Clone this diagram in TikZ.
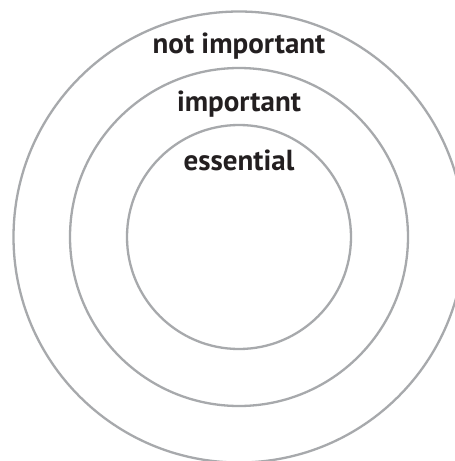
\documentclass[tikz,border=0pt]{standalone}
\usepackage{fontspec}
\setmainfont{PT Sans}
\definecolor{ringgray}{HTML}{A7A9AC}
\definecolor{labelink}{HTML}{231F20}
\begin{document}
\begin{tikzpicture}[x=1pt,y=-1pt,
  ring/.style={draw=ringgray, line width=2.3pt, circle, inner sep=0pt, fill=none},
  lbl/.style={anchor=base, inner sep=0pt, text=labelink, font=\fontsize{29}{32}\selectfont\bfseries}]
\useasboundingbox (0,0) rectangle (455,461);
\fill[white] (0,0) rectangle (455,461);
\node[ring, minimum size=451pt] (outer) at (239,237) {};
\node[ring, minimum size=338pt] (middle) at (239,237) {};
\node[ring, minimum size=224pt] (inner) at (239,237) {};
\node[lbl] (notimp) at (239,53) {not important};
\node[lbl] (imp) at (239,111.5) {important};
\node[lbl] (ess) at (239,170) {essential};
\end{tikzpicture}
\end{document}
